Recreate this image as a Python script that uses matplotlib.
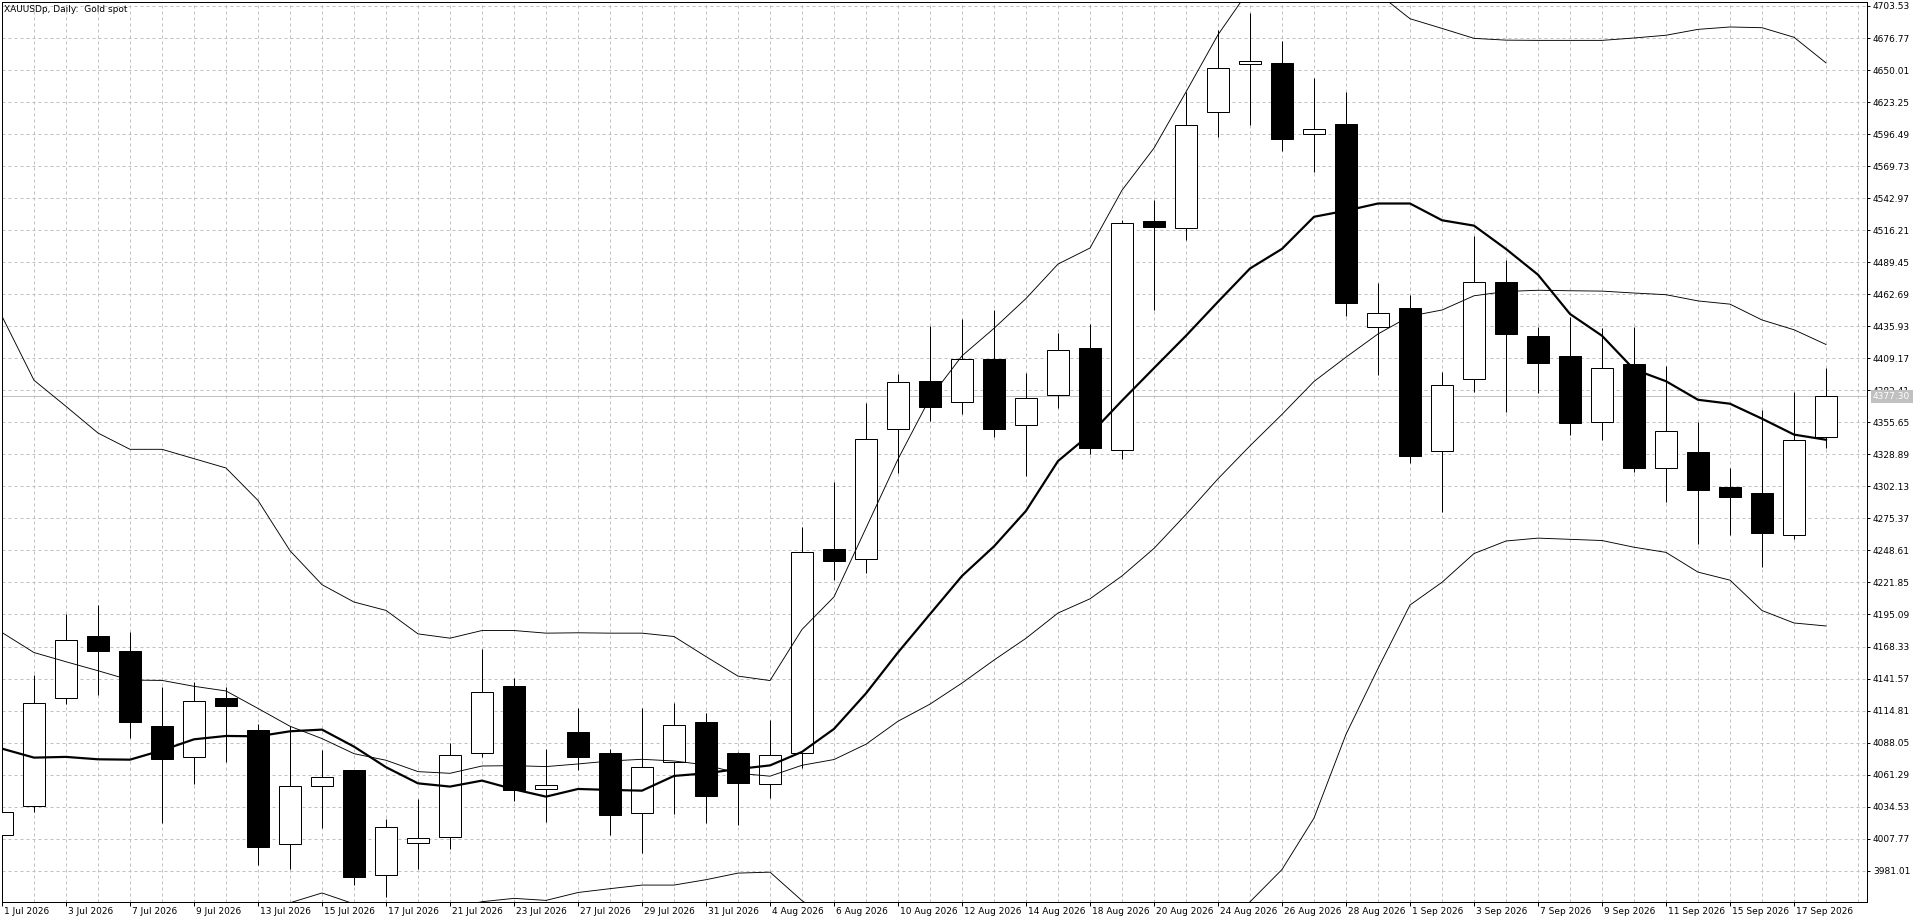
import matplotlib
matplotlib.use("Agg")
import matplotlib.pyplot as plt
import matplotlib.transforms as mtransforms
import numpy as np

plt.rcParams['font.family'] = ['DejaVu Sans']

# daily bars, 1 Jul 2026 .. 18 Sep 2026 (one per trading day)
opens = [4011.1, 4034.8, 4125.7, 4177.0, 4164.4, 4101.7, 4076.1, 4125.2, 4098.4, 4003.6,
         4052.1, 4064.9, 3977.4, 4003.9, 4008.9, 4079.1, 4135.4, 4049.6, 4096.7, 4079.4,
         4028.9, 4071.6, 4105.0, 4079.4, 4053.2, 4079.6, 4249.4, 4241.7, 4350.1, 4389.8,
         4372.8, 4408.9, 4353.3, 4378.6, 4417.9, 4332.5, 4523.6, 4517.9, 4614.9, 4654.7,
         4656.2, 4596.4, 4605.1, 4434.9, 4451.3, 4331.9, 4391.6, 4472.8, 4427.4, 4411.2,
         4356.0, 4404.6, 4317.4, 4331.2, 4301.8, 4296.2, 4261.2, 4343.1]
highs = [4036.0, 4144.4, 4195.9, 4202.9, 4180.3, 4134.3, 4138.5, 4134.9, 4103.4, 4101.7,
         4081.6, 4065.4, 4024.2, 4040.9, 4087.8, 4166.4, 4142.1, 4082.8, 4117.0, 4082.5,
         4117.0, 4120.9, 4112.9, 4080.2, 4107.0, 4268.6, 4305.4, 4372.2, 4395.8, 4435.8,
         4442.2, 4449.9, 4396.8, 4430.0, 4437.4, 4525.0, 4541.5, 4632.0, 4683.3, 4697.4,
         4674.4, 4643.3, 4631.7, 4472.2, 4462.1, 4397.6, 4511.6, 4491.3, 4435.6, 4443.9,
         4434.6, 4435.6, 4402.6, 4356.0, 4317.4, 4365.9, 4381.1, 4400.9]
lows = [4003.0, 4030.1, 4120.4, 4127.9, 4092.0, 4020.6, 4053.5, 4071.9, 3985.5, 3982.2,
        4016.7, 3968.8, 3958.7, 3982.4, 3999.4, 4076.3, 4039.5, 4021.7, 4065.2, 4010.8,
        3996.1, 4028.4, 4021.2, 4019.2, 4042.0, 4066.5, 4224.1, 4229.6, 4313.0, 4356.8,
        4362.6, 4343.1, 4310.5, 4367.4, 4329.0, 4324.9, 4449.5, 4508.3, 4594.3, 4604.2,
        4582.7, 4564.8, 4444.4, 4395.2, 4321.7, 4281.1, 4380.8, 4364.7, 4380.1, 4345.4,
        4340.5, 4314.1, 4288.9, 4253.9, 4261.2, 4234.4, 4257.9, 4334.5]
closes = [4030.1, 4121.5, 4173.4, 4164.7, 4105.3, 4074.4, 4123.2, 4118.7, 4000.8, 4051.6,
          4059.6, 3975.7, 4017.2, 4008.0, 4077.5, 4130.2, 4048.5, 4052.4, 4076.3, 4027.8,
          4067.4, 4102.5, 4043.7, 4054.6, 4077.5, 4247.5, 4239.5, 4341.8, 4389.4, 4368.3,
          4408.6, 4349.8, 4376.0, 4416.0, 4334.1, 4522.3, 4518.5, 4603.9, 4651.7, 4657.4,
          4592.8, 4600.6, 4455.5, 4446.8, 4327.4, 4386.8, 4472.8, 4429.8, 4404.9, 4355.0,
          4400.9, 4317.4, 4348.4, 4298.9, 4293.2, 4262.8, 4341.1, 4377.3]

# moving average (thick line)
ma_line = [4083.0, 4075.5, 4076.1, 4074.1, 4073.8, 4081.6, 4090.8, 4093.6, 4093.3, 4097.5,
           4098.9, 4084.7, 4067.5, 4054.0, 4051.3, 4056.3, 4049.0, 4042.9, 4049.3, 4048.5,
           4047.9, 4060.2, 4062.4, 4066.0, 4069.0, 4080.3, 4099.5, 4129.2, 4163.4, 4195.4,
           4227.3, 4252.0, 4281.7, 4323.3, 4345.6, 4373.8, 4401.0, 4428.0, 4456.4, 4484.2,
           4500.6, 4527.4, 4532.5, 4538.5, 4538.5, 4524.5, 4520.0, 4500.5, 4479.0, 4446.2,
           4428.0, 4399.9, 4390.0, 4374.5, 4371.2, 4358.7, 4345.4, 4341.1]

# bollinger bands (thin lines)
bb_mid = [4180.0, 4163.3, 4155.6, 4148.1, 4140.3, 4140.0, 4135.1, 4131.2, 4116.6, 4101.7,
          4091.4, 4078.8, 4073.3, 4063.8, 4062.4, 4068.5, 4068.8, 4068.0, 4070.2, 4072.7,
          4074.1, 4072.7, 4069.4, 4062.4, 4060.0, 4069.1, 4073.9, 4086.7, 4105.9, 4120.2,
          4137.8, 4157.0, 4175.2, 4196.3, 4208.2, 4227.3, 4250.3, 4278.7, 4308.5, 4336.0,
          4362.3, 4389.8, 4410.1, 4429.5, 4444.4, 4449.5, 4461.4, 4465.0, 4466.0, 4465.6,
          4465.3, 4463.7, 4462.3, 4457.1, 4454.4, 4441.2, 4433.0, 4420.7]
bb_up = [4444.3, 4390.8, 4369.0, 4346.7, 4333.1, 4333.1, 4325.3, 4317.5, 4290.4, 4248.4,
         4220.0, 4205.5, 4198.5, 4178.9, 4175.3, 4181.7, 4181.7, 4179.5, 4179.8, 4179.5,
         4179.5, 4176.7, 4159.9, 4143.6, 4139.9, 4182.6, 4209.8, 4267.3, 4324.9, 4376.0,
         4411.2, 4434.2, 4459.1, 4487.9, 4501.3, 4549.6, 4584.8, 4631.7, 4679.5, 4718.0,
         4742.0, 4755.0, 4726.0, 4714.0, 4692.9, 4684.8, 4676.5, 4675.0, 4674.8, 4674.8,
         4674.8, 4676.8, 4679.1, 4684.0, 4686.0, 4685.4, 4677.4, 4656.0]
bb_low = [3915.7, 3935.8, 3942.2, 3949.5, 3947.5, 3946.9, 3944.9, 3944.9, 3942.8, 3954.2,
          3962.4, 3953.3, 3948.2, 3948.7, 3949.5, 3955.1, 3957.9, 3956.2, 3962.8, 3966.0,
          3969.0, 3969.0, 3973.5, 3979.0, 3979.8, 3956.0, 3938.0, 3906.1, 3886.9, 3864.4,
          3864.4, 3879.8, 3891.3, 3904.7, 3915.1, 3905.0, 3915.8, 3925.7, 3937.5, 3955.0,
          3982.0, 4025.0, 4095.0, 4150.0, 4203.0, 4222.0, 4246.0, 4256.5, 4258.9, 4257.9,
          4256.9, 4251.3, 4247.0, 4230.5, 4223.8, 4198.4, 4188.0, 4185.5]

date_labels = ["1 Jul 2026", "3 Jul 2026", "7 Jul 2026", "9 Jul 2026", "13 Jul 2026",
               "15 Jul 2026", "17 Jul 2026", "21 Jul 2026", "23 Jul 2026", "27 Jul 2026",
               "29 Jul 2026", "31 Jul 2026", "4 Aug 2026", "6 Aug 2026", "10 Aug 2026",
               "12 Aug 2026", "14 Aug 2026", "18 Aug 2026", "20 Aug 2026", "24 Aug 2026",
               "26 Aug 2026", "28 Aug 2026", "1 Sep 2026", "3 Sep 2026", "7 Sep 2026",
               "9 Sep 2026", "11 Sep 2026", "15 Sep 2026", "17 Sep 2026"]

price_ticks = [4703.53, 4676.77, 4650.01, 4623.25, 4596.49, 4569.73, 4542.97, 4516.21,
               4489.45, 4462.69, 4435.93, 4409.17, 4382.41, 4355.65, 4328.89, 4302.13,
               4275.37, 4248.61, 4221.85, 4195.09, 4168.33, 4141.57, 4114.81, 4088.05,
               4061.29, 4034.53, 4007.77, 3981.01]
last_price = 4377.30

title = "XAUUSDp, Daily:  Gold spot"

PX = 0.72  # one pixel in points at dpi 100
W, H = 1920, 923
FS = 6.5

fig = plt.figure(figsize=(W / 100, H / 100), dpi=100)
fig.patch.set_facecolor('white')
ax = fig.add_axes([2 / W, 21 / H, 1865 / W, 900 / H])

x = np.arange(len(opens))
o = np.array(opens)
c = np.array(closes)

# grid: every bar and every price level
for xv in range(0, 59):
    ax.axvline(xv, color='#c0c0c0', lw=PX, ls=(0, (3, 3)), zorder=0)
for pv in price_ticks:
    ax.axhline(pv, color='#c0c0c0', lw=PX, ls=(0, (3, 3)), zorder=0)

# last price line
ax.axhline(last_price, color='#c0c0c0', lw=PX, zorder=1)

# candles
ax.vlines(x, lows, highs, color='black', lw=PX, zorder=2)
up = c >= o
body_bot = np.minimum(o, c)
body_h = np.maximum(np.abs(c - o), 0.4)
ax.bar(x[up], body_h[up], bottom=body_bot[up], width=0.66, color='white',
       edgecolor='black', linewidth=PX, zorder=3)
ax.bar(x[~up], body_h[~up], bottom=body_bot[~up], width=0.66, color='black',
       edgecolor='black', linewidth=PX, zorder=3)

# indicators
ax.plot(x, bb_up, color='black', lw=PX * 0.9, zorder=4)
ax.plot(x, bb_mid, color='black', lw=PX * 0.9, zorder=4)
ax.plot(x, bb_low, color='black', lw=PX * 0.9, zorder=4)
ax.plot(x, ma_line, color='black', lw=PX * 2.2, zorder=5)

ax.set_xlim(0, 1865 / 32)
ax.set_ylim(3954.86, 4706.87)

for s in ax.spines.values():
    s.set_linewidth(PX)
    s.set_color('black')

# price scale on the right
ax.yaxis.tick_right()
ax.set_yticks(price_ticks)
ax.set_yticklabels(['%.2f' % p for p in price_ticks])
ax.tick_params(axis='y', direction='out', length=3 * PX, width=PX, pad=3 * PX,
               labelsize=FS, colors='black')

# date scale
ax.set_xticks(x[::2][:len(date_labels)])
ax.set_xticklabels(date_labels, ha='left')
ax.tick_params(axis='x', direction='out', length=4 * PX, width=PX, pad=0.5,
               labelsize=FS, colors='black')
shift = mtransforms.ScaledTranslation(2 / 100, 0, fig.dpi_scale_trans)
for lbl in ax.get_xticklabels():
    lbl.set_transform(lbl.get_transform() + shift)

# last price box on the scale
trans = mtransforms.blended_transform_factory(ax.transAxes, ax.transData)
ax.text(1.0, last_price, '%.2f' % last_price,
        transform=trans + mtransforms.ScaledTranslation(6 / 100, 0, fig.dpi_scale_trans),
        ha='left', va='center', color='white', fontsize=FS, clip_on=False, zorder=6,
        bbox=dict(boxstyle='square,pad=0.25', fc='#c0c0c0', ec='none'))

fig.text(4 / W, 1 - 9 / H, title, fontsize=FS, ha='left', va='center', color='black')

fig.savefig('out.png', dpi=100, facecolor='white')
